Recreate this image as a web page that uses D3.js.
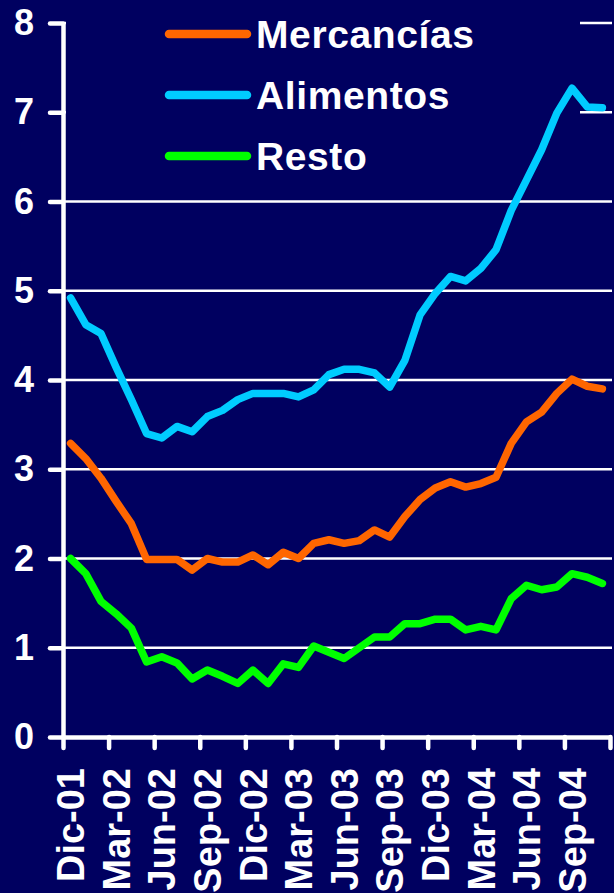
<!DOCTYPE html>
<html>
<head>
<meta charset="utf-8">
<script src="https://cdn.jsdelivr.net/npm/d3@7"></script>
<style>
  html, body { margin: 0; padding: 0; background: #000060; }
  svg { display: block; }
  text { font-family: "Liberation Sans", Arial, sans-serif; font-weight: bold; fill: #fff; }
</style>
</head>
<body>
<div id="chart"></div>
<script>
const months = ["Dic-01","Ene-02","Feb-02","Mar-02","Abr-02","May-02","Jun-02","Jul-02","Ago-02","Sep-02","Oct-02","Nov-02",
  "Dic-02","Ene-03","Feb-03","Mar-03","Abr-03","May-03","Jun-03","Jul-03","Ago-03","Sep-03","Oct-03","Nov-03",
  "Dic-03","Ene-04","Feb-04","Mar-04","Abr-04","May-04","Jun-04","Jul-04","Ago-04","Sep-04","Oct-04","Nov-04"];

const mercancias = [3.29,3.12,2.90,2.64,2.39,1.99,1.99,1.99,1.87,2.00,1.96,1.96,2.04,1.93,2.07,2.00,2.17,2.21,
  2.17,2.20,2.32,2.24,2.47,2.66,2.79,2.86,2.80,2.84,2.91,3.29,3.53,3.64,3.85,4.01,3.93,3.90];
const alimentos = [4.92,4.62,4.52,4.14,3.78,3.40,3.35,3.48,3.42,3.59,3.66,3.78,3.85,3.85,3.85,3.81,3.89,4.06,
  4.12,4.12,4.08,3.92,4.22,4.73,4.97,5.16,5.11,5.25,5.46,5.90,6.24,6.58,6.99,7.27,7.06,7.05];
const resto = [2.00,1.83,1.52,1.38,1.22,0.84,0.90,0.83,0.65,0.75,0.68,0.60,0.75,0.60,0.82,0.78,1.02,0.95,
  0.88,1.00,1.12,1.12,1.27,1.27,1.32,1.32,1.20,1.24,1.20,1.55,1.70,1.65,1.68,1.83,1.79,1.72];

const seriesNames = ["Mercancías", "Alimentos", "Resto"];
const seriesColors = ["#ff6600", "#00ccff", "#00ff00"];
const yTicks = [0, 1, 2, 3, 4, 5, 6, 7, 8];

const width = 614, height = 893;
const plotLeft = 63, plotRight = 610, plotTop = 23, plotBottom = 737;

const svg = d3.select("#chart").append("svg")
  .attr("width", width)
  .attr("height", height);

svg.append("rect").attr("width", width).attr("height", height).attr("fill", "#000060");

// linear index scale: ticks at category edges, points at category centres
const x = d3.scaleLinear().domain([0, months.length]).range([plotLeft, plotRight]);
const y = d3.scaleLinear().domain([0, 8]).range([plotBottom, plotTop]);

// gridlines
svg.append("g")
  .selectAll("line")
  .data(yTicks.filter(d => d > 0))
  .join("line")
  .attr("x1", plotLeft).attr("x2", 612)
  .attr("y1", d => y(d)).attr("y2", d => y(d))
  .attr("stroke", "#fff")
  .attr("stroke-width", 2.5);

// legend box hides the top gridlines
svg.append("rect")
  .attr("x", plotLeft + 3).attr("y", 0)
  .attr("width", 580 - plotLeft - 3).attr("height", 185)
  .attr("fill", "#000060");

// y axis
const yAxis = svg.append("g")
  .attr("transform", `translate(${plotLeft},0)`)
  .call(d3.axisLeft(y).tickValues(yTicks).tickSize(13).tickPadding(16).tickSizeOuter(0));
yAxis.select(".domain").attr("stroke", "#fff").attr("stroke-width", 4.5);
yAxis.selectAll(".tick line").attr("stroke", "#fff").attr("stroke-width", 4.5).attr("stroke-linecap", "round");
yAxis.selectAll(".tick text")
  .attr("font-size", 36)
  .attr("font-family", "Liberation Sans, Arial, sans-serif")
  .attr("font-weight", "bold")
  .attr("fill", "#fff");

// x axis
const xAxis = svg.append("g")
  .attr("transform", `translate(0,${plotBottom})`)
  .call(d3.axisBottom(x).tickValues(d3.range(0, months.length + 1, 3)).tickSize(11).tickFormat("").tickSizeOuter(0));
xAxis.select(".domain").attr("stroke", "#fff").attr("stroke-width", 4.5);
xAxis.selectAll(".tick line").attr("stroke", "#fff").attr("stroke-width", 4.5).attr("stroke-linecap", "round");

svg.append("g")
  .selectAll("text")
  .data(months.map((m, i) => ({ m, i })).filter(d => d.i % 3 === 0))
  .join("text")
  .attr("transform", d => `translate(${x(d.i + 0.5)},768) rotate(-90)`)
  .attr("text-anchor", "end")
  .attr("dy", "0.36em")
  .attr("font-size", 38)
  .text(d => d.m);

// lines
const line = d3.line()
  .x((d, i) => x(i + 0.5))
  .y(d => y(d));

[mercancias, alimentos, resto].forEach((s, k) => {
  svg.append("path")
    .datum(s)
    .attr("d", line)
    .attr("fill", "none")
    .attr("stroke", seriesColors[k])
    .attr("stroke-width", 7.5)
    .attr("stroke-linejoin", "round")
    .attr("stroke-linecap", "round");
});

// legend
const legend = svg.append("g")
  .selectAll("g")
  .data(seriesNames)
  .join("g")
  .attr("transform", (d, i) => `translate(0,${34 + i * 61})`);

legend.append("line")
  .attr("x1", 169).attr("x2", 247)
  .attr("stroke", (d, i) => seriesColors[i])
  .attr("stroke-width", 8.5)
  .attr("stroke-linecap", "round");

legend.append("text")
  .attr("x", 256)
  .attr("y", 14)
  .attr("font-size", 39)
  .attr("letter-spacing", 0.6)
  .text(d => d);
</script>
</body>
</html>
